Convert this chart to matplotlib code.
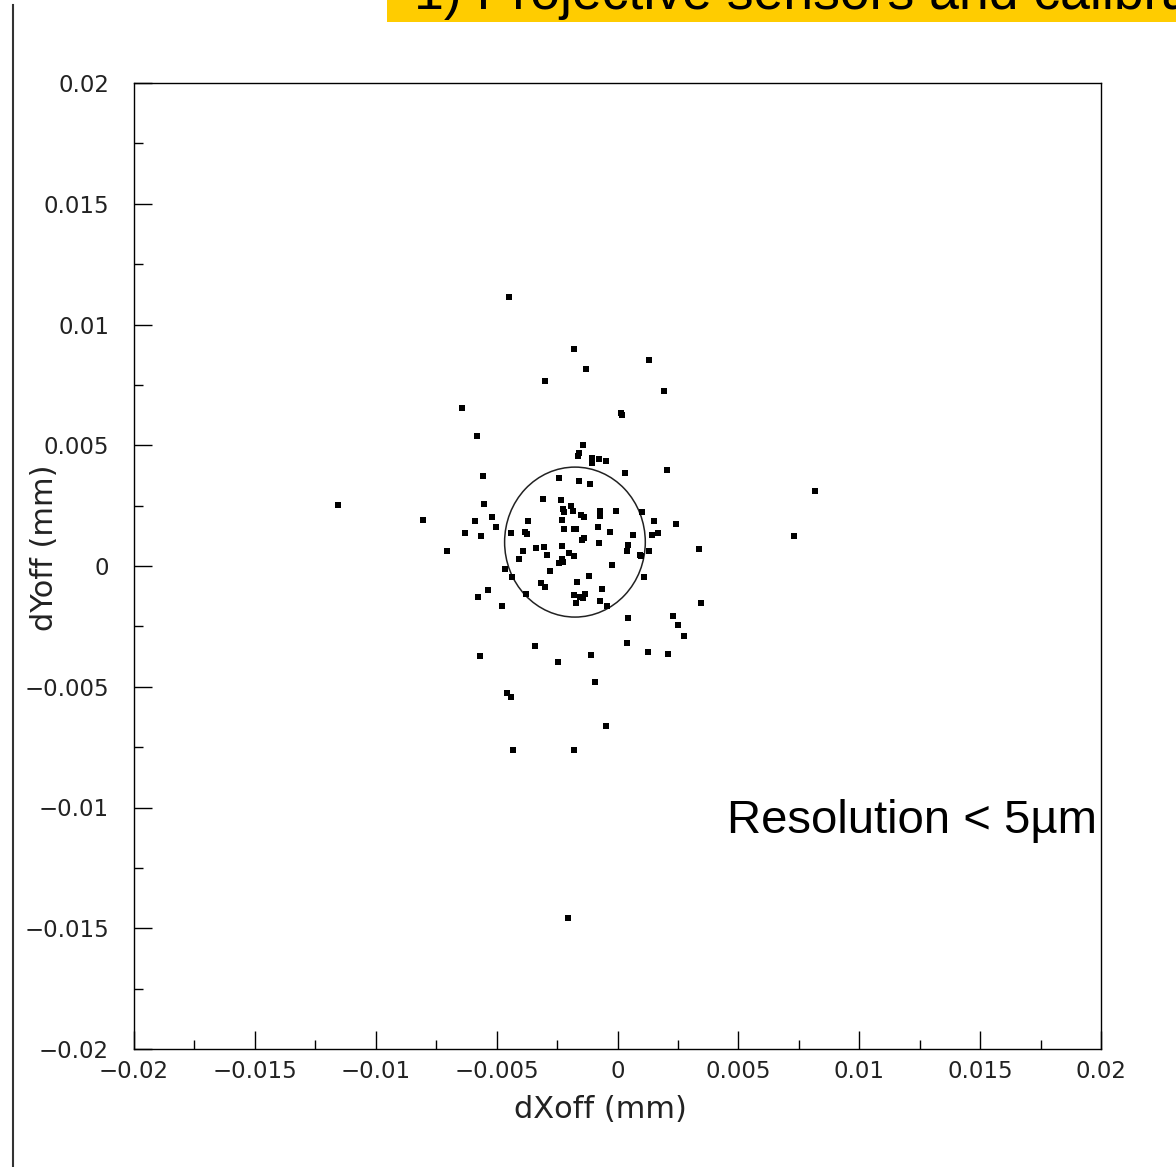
import numpy as np
import matplotlib.pyplot as plt
from matplotlib.patches import Ellipse, Rectangle
from matplotlib.lines import Line2D

# offsets (mm)
dx = [-0.00449, -0.00180, -0.00130, 0.00130, -0.00300, 0.00192, 0.00014, 0.00019,
      -0.00643, -0.00581, -0.00143, -0.00159, -0.00163, -0.00105, -0.00105, -0.00077,
      -0.00048, 0.00031, 0.00205, -0.00556, -0.00242, -0.00159, -0.00114, -0.00308,
      -0.00234, -0.00192, -0.00225, -0.00221, -0.00184, -0.00151, -0.00139, -0.00072,
      -0.00072, -0.00006, 0.00101, -0.00552, -0.00805, -0.00590, -0.00519, -0.00503,
      -0.00631, -0.00565, -0.00370, -0.00441, -0.00383, -0.00374, -0.00230, -0.00221,
      -0.00180, -0.00172, -0.00081, -0.00031, 0.00064, 0.00151, 0.00242, 0.00143,
      0.00168, -0.00139, -0.00147, -0.00077, -0.00230, -0.00304, -0.00337, -0.00292,
      -0.00391, -0.00407, -0.00201, -0.00180, -0.00230, -0.00242, -0.00225, 0.00043,
      0.00039, 0.00093, 0.00097, 0.00130, 0.00337, -0.00705, -0.00465, -0.00436,
      -0.00279, -0.00118, -0.00023, 0.00110, -0.00168, -0.00316, -0.00300, -0.00536,
      -0.00577, -0.00478, -0.00378, -0.00180, -0.00155, -0.00134, -0.00143, -0.00172,
      -0.00064, -0.00072, -0.00043, 0.00043, 0.00230, 0.00250, 0.00275, 0.00345,
      -0.00341, 0.00039, -0.00569, -0.00246, -0.00110, 0.00126, 0.00209, -0.00093,
      -0.00457, -0.00441, -0.00048, -0.00432, -0.00180, -0.01156, 0.00730, 0.00817,
      -0.00205]
dy = [0.01114, 0.00899, 0.00816, 0.00853, 0.00766, 0.00725, 0.00634, 0.00625,
      0.00654, 0.00538, 0.00501, 0.00468, 0.00455, 0.00447, 0.00427, 0.00443,
      0.00435, 0.00385, 0.00398, 0.00373, 0.00364, 0.00352, 0.00340, 0.00277,
      0.00273, 0.00248, 0.00236, 0.00224, 0.00228, 0.00211, 0.00203, 0.00228,
      0.00207, 0.00228, 0.00224, 0.00257, 0.00190, 0.00186, 0.00203, 0.00161,
      0.00137, 0.00124, 0.00186, 0.00137, 0.00141, 0.00133, 0.00190, 0.00153,
      0.00153, 0.00153, 0.00161, 0.00141, 0.00128, 0.00186, 0.00174, 0.00128,
      0.00137, 0.00116, 0.00108, 0.00095, 0.00083, 0.00079, 0.00075, 0.00046,
      0.00062, 0.00029, 0.00054, 0.00041, 0.00029, 0.00012, 0.00017, 0.00087,
      0.00062, 0.00046, 0.00041, 0.00062, 0.00070, 0.00062, -0.00012, -0.00046,
      -0.00021, -0.00041, 0.00004, -0.00046, -0.00066, -0.00070, -0.00087, -0.00099,
      -0.00128, -0.00166, -0.00116, -0.00120, -0.00128, -0.00116, -0.00133, -0.00153,
      -0.00095, -0.00145, -0.00166, -0.00215, -0.00207, -0.00244, -0.00290, -0.00153,
      -0.00331, -0.00319, -0.00373, -0.00398, -0.00369, -0.00356, -0.00364, -0.00480,
      -0.00526, -0.00542, -0.00663, -0.00762, -0.00762, 0.00253, 0.00124, 0.00311,
      -0.01458]

# resolution circle
circ_center = (-0.00176, 0.00099)
circ_w = 0.00582
circ_h = 0.00621

ticks = [-0.02, -0.015, -0.01, -0.005, 0, 0.005, 0.01, 0.015, 0.02]
tick_labels = ['\u22120.02', '\u22120.015', '\u22120.01', '\u22120.005', '0',
               '0.005', '0.01', '0.015', '0.02']
minor = [-0.0175, -0.0125, -0.0075, -0.0025, 0.0025, 0.0075, 0.0125, 0.0175]

W, H = 1176, 1167
fig = plt.figure(figsize=(W / 100, H / 100), dpi=100)
ax = fig.add_axes([134 / W, 1 - 1049 / H, 967 / W, 966 / H])

ax.plot(dx, dy, 's', ms=3.9, mew=0, color='black')
ax.add_patch(Ellipse(circ_center, circ_w, circ_h, fill=False, color='#222222', lw=1.1))

ax.set_xlim(-0.02, 0.02)
ax.set_ylim(-0.02, 0.02)
ax.set_xticks(ticks)
ax.set_yticks(ticks)
ax.set_xticks(minor, minor=True)
ax.set_yticks(minor, minor=True)
ax.set_xticklabels(tick_labels, fontsize=16.5, color='#222222', family='DejaVu Sans')
ax.set_yticklabels(tick_labels, fontsize=16.5, color='#222222', family='DejaVu Sans')
ax.tick_params(which='major', direction='in', length=13, width=1, top=False, right=False)
ax.tick_params(which='minor', direction='in', length=6.5, width=1, top=False, right=False)
ax.tick_params(axis='y', which='major', pad=18)
ax.tick_params(axis='x', which='major', pad=8)
for s in ax.spines.values():
    s.set_linewidth(1.0)

fig.text(600 / W, 1 - 1110 / H, 'dXoff (mm)', ha='center', va='center',
         fontsize=22, color='#222222')
fig.text(45 / W, 1 - 548 / H, 'dYoff (mm)', ha='center', va='center',
         rotation=90, fontsize=22, color='#222222')

fig.text(727 / W, 1 - 833 / H, 'Resolution < 5\u00b5m', ha='left', va='baseline',
         fontsize=34, family='Liberation Sans', color='black')

# banner (title cut off by the top edge) and left frame line
fig.add_artist(Rectangle((387 / W, 1 - 22 / H), (W - 387) / W, 22 / H,
                         transform=fig.transFigure, color='#FFCC00', lw=0))
fig.text(414 / W, 1 - 9 / H, '1) Projective sensors and calibration', ha='left',
         va='baseline', fontsize=38.5, family='Liberation Sans', color='black')
fig.add_artist(Line2D([13 / W, 13 / W], [0, 1 - 5 / H], transform=fig.transFigure,
                      color='#333333', lw=1.5))

plt.savefig('out.png', dpi=100)
